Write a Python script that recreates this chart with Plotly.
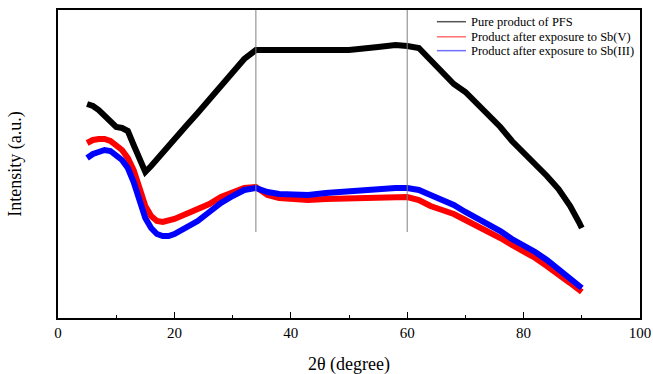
import plotly.graph_objects as go

# 2-theta positions (degree)
x_pfs = [5, 6, 7, 8, 9, 10, 11, 12, 13, 14, 15, 16, 17, 18, 20, 22, 24, 26, 28, 30, 32, 34, 36,
         40, 45, 50, 55, 58, 60, 62, 64, 66, 68, 70, 72, 74, 76, 78, 80, 82, 84, 86, 88, 89.5, 90]
y_pfs = [214, 212, 208, 202, 196, 191, 190, 187, 173, 158, 146, 152, 159, 166, 179, 192, 205, 219, 232, 246, 259, 268, 268,
         267, 267, 268, 271, 273, 272, 270, 258, 245, 234, 226, 215, 204, 191, 177, 166, 155, 142, 129, 112, 96, 90]

x_sb = [5, 6, 7, 8, 9, 10, 11, 12, 13, 14, 15, 16, 17, 18, 19, 20, 22, 24, 26, 28, 30, 32, 34, 36, 38,
        40, 43, 46, 50, 54, 58, 60, 62, 64, 66, 68, 70, 72, 74, 76, 78, 80, 82, 84, 86, 88, 90]
y_sb5 = [175, 178, 179, 179, 177, 173, 168, 160, 148, 130, 112, 102, 97, 96, 97, 99, 104, 109, 114, 121, 126, 130, 131, 123, 120,
         119, 118, 119, 120, 121, 121, 121, 118, 112, 108, 104, 98, 92, 87, 80, 73, 67, 60, 52, 44, 35, 26]
y_sb3 = [160, 164, 166, 168, 167, 163, 158, 150, 136, 118, 100, 90, 84, 82, 82, 84, 90, 97, 106, 115, 122, 128, 130, 126, 124,
         123, 123, 125, 127, 129, 130, 130, 128, 123, 118, 113, 106, 100, 94, 87, 79, 73, 66, 58, 49, 40, 30]

names = ["Pure product of PFS", "Product after exposure to Sb(V)", "Product after exposure to Sb(III)"]
colors = ["black", "#ff0000", "#0000ff"]
legend_colors = ["#555555", "#ff7070", "#7070ff"]
ref_x = [34, 60]
ref_y = [86, 308]
x_title = "2θ (degree)"
y_title = "Intensity (a.u.)"

FONT = "Liberation Serif, Times New Roman, Times, serif"

fig = go.Figure()
series = [(x_pfs, y_pfs), (x_sb, y_sb5), (x_sb, y_sb3)]
for (xs, ys), nm, c in zip(series, names, colors):
    fig.add_trace(go.Scatter(x=xs, y=ys, mode="lines", name=nm, showlegend=False,
                             line=dict(color=c, width=6)))

for rx in ref_x:
    fig.add_shape(type="line", x0=rx, x1=rx, y0=ref_y[0], y1=ref_y[1],
                  xref="x", yref="y", line=dict(color="#808080", width=1), layer="above")

# manual legend (paper coordinates)
leg_rows = [0.962, 0.913, 0.868]
for nm, c, ry in zip(names, legend_colors, leg_rows):
    fig.add_shape(type="line", xref="paper", yref="paper", x0=0.651, x1=0.701, y0=ry, y1=ry,
                  line=dict(color=c, width=1.5))
    fig.add_annotation(xref="paper", yref="paper", x=0.706, y=ry, text=nm, showarrow=False,
                       xanchor="left", yanchor="middle", font=dict(family=FONT, size=12.5, color="black"))

# x axis title
fig.add_annotation(xref="paper", yref="paper", x=0.5, y=-0.152, text=x_title, showarrow=False,
                   xanchor="center", yanchor="middle", font=dict(family=FONT, size=18, color="black"))

fig.update_layout(
    width=653, height=374,
    margin=dict(l=58, r=13, t=10, b=56),
    paper_bgcolor="white", plot_bgcolor="white",
    font=dict(family=FONT, color="black", size=15),
    showlegend=False,
    xaxis=dict(range=[0, 100], dtick=20, tick0=0, automargin=False,
               showline=True, linecolor="black", linewidth=1.5, mirror=True,
               ticks="inside", ticklen=6, tickcolor="black", tickwidth=1,
               minor=dict(ticks="inside", ticklen=3, dtick=10, tickcolor="black"),
               showgrid=False, zeroline=False,
               tickfont=dict(family=FONT, size=15)),
    yaxis=dict(range=[0, 308], showticklabels=False, ticks="", automargin=False,
               showline=True, linecolor="black", linewidth=1.5, mirror=True,
               showgrid=False, zeroline=False,
               title=dict(text=y_title, font=dict(family=FONT, size=18), standoff=30)),
)

fig.write_html("out.html")
